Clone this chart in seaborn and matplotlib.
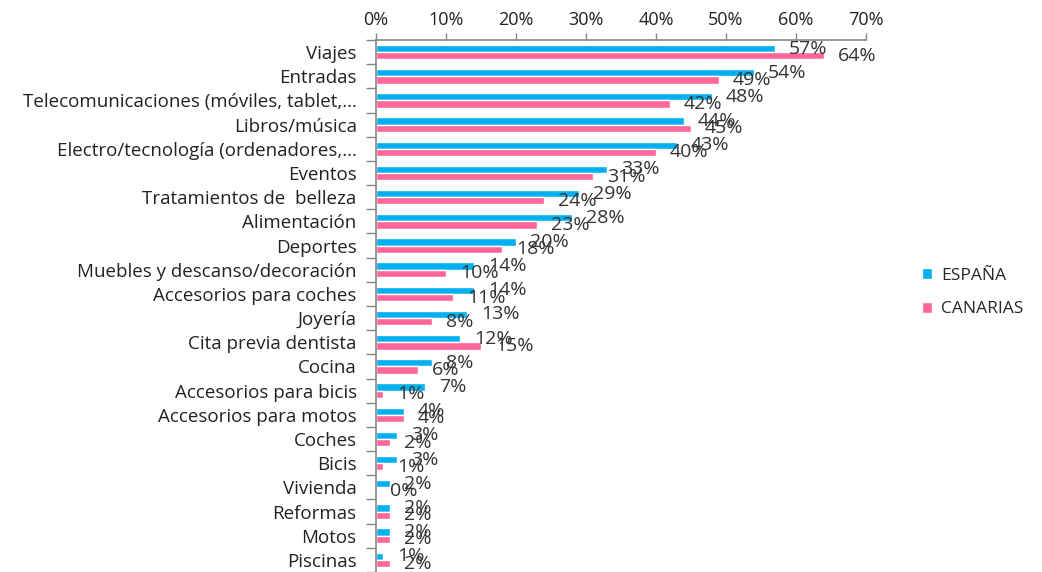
import pandas as pd
import numpy as np
import matplotlib
matplotlib.use("Agg")
import matplotlib.pyplot as plt
import seaborn as sns
from matplotlib.ticker import FixedLocator

# Data (percent)
categories = [
    "Viajes",
    "Entradas",
    "Telecomunicaciones (móviles, tablet,...",
    "Libros/música",
    "Electro/tecnología (ordenadores,...",
    "Eventos",
    "Tratamientos de  belleza",
    "Alimentación",
    "Deportes",
    "Muebles y descanso/decoración",
    "Accesorios para coches",
    "Joyería",
    "Cita previa dentista",
    "Cocina",
    "Accesorios para bicis",
    "Accesorios para motos",
    "Coches",
    "Bicis",
    "Vivienda",
    "Reformas",
    "Motos",
    "Piscinas",
]
espana = [57, 54, 48, 44, 43, 33, 29, 28, 20, 14, 14, 13, 12, 8, 7, 4, 3, 3, 2, 2, 2, 1]
canarias = [64, 49, 42, 45, 40, 31, 24, 23, 18, 10, 11, 8, 15, 6, 1, 4, 2, 1, 0, 2, 2, 2]
series_names = ["ESPAÑA", "CANARIAS"]
x_ticks = [0, 10, 20, 30, 40, 50, 60, 70]


def main():
    df = pd.DataFrame({
        "categoria": categories * 2,
        "valor": espana + canarias,
        "serie": [series_names[0]] * len(categories) + [series_names[1]] * len(categories),
    })

    sns.set_style("white")
    plt.rcParams["font.family"] = ["Open Sans", "DejaVu Sans"]

    fig = plt.figure(figsize=(10.42, 5.72), dpi=100)
    ax = fig.add_axes([0.361, 0.0, 0.470, 0.930])

    sns.barplot(data=df, y="categoria", x="valor", hue="serie", orient="h",
                hue_order=series_names, palette=["#00B0F0", "#FF6699"],
                width=0.6, saturation=1, ax=ax)

    # data labels
    for cont in ax.containers:
        ax.bar_label(cont, fmt="{:.0f}%", padding=10, fontsize=14, color="#333333")

    # top percentage axis
    ax.set_xlim(0, 70)
    ax.xaxis.tick_top()
    ax.set_xticks(x_ticks)
    ax.set_xticklabels([f"{t}%" for t in x_ticks])
    ax.tick_params(axis="x", length=5, width=1, color="#868686", labelsize=13,
                   labelcolor="#222222", pad=3)

    # category axis: ticks between categories
    ax.set_ylim(len(categories) - 0.5, -0.5)
    ax.yaxis.set_minor_locator(FixedLocator(np.arange(-0.5, len(categories), 1.0)))
    ax.tick_params(axis="y", which="major", length=0, labelsize=13.5,
                   labelcolor="#222222", pad=14)
    ax.tick_params(axis="y", which="minor", left=True, length=7, width=1, color="#868686")

    ax.set_xlabel("")
    ax.set_ylabel("")
    for side in ["right", "bottom"]:
        ax.spines[side].set_visible(False)
    for side in ["top", "left"]:
        ax.spines[side].set_color("#868686")
        ax.spines[side].set_linewidth(1.2)

    sns.move_legend(ax, "center left", bbox_to_anchor=(1.10, 0.525), frameon=False,
                    title=None, fontsize=12.5, handlelength=0.6, handleheight=0.6,
                    handletextpad=0.5, labelspacing=1.0, borderaxespad=0)

    plt.savefig("out.png", dpi=100)
    plt.close()


if __name__ == "__main__":
    main()
